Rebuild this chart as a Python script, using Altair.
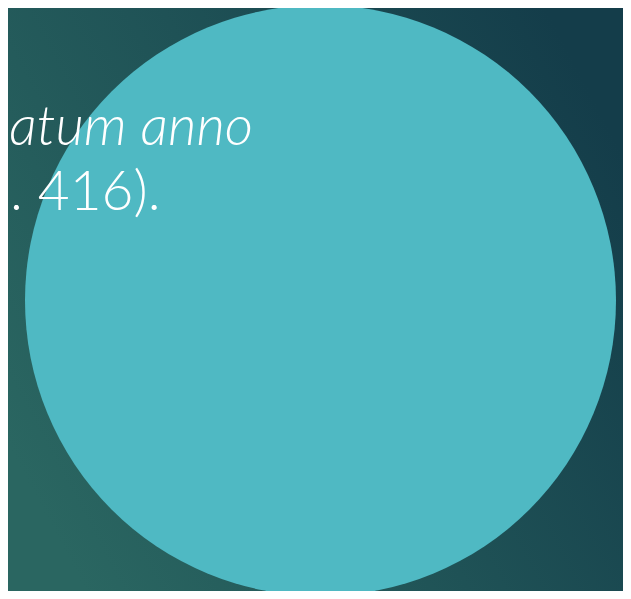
import altair as alt
import pandas as pd

# visible region of the slide (page coords), chart sits inside the 8px page margin
X0, X1 = 8, 623
Y0, Y1 = 8, 591
W, H = X1 - X0, Y1 - Y0

# circle (in slide pixel units)
circle_x = [320.5]
circle_y = [300.5]
circle_diam = 591

# text lines
text_lines = ["atum anno", ". 416)."]
text_anchor_x = [253, 10]
text_align = ["right", "left"]
text_base_y = [145, 210]
text_italic = [True, False]

df_c = pd.DataFrame({"x": circle_x, "y": circle_y})
df_t = pd.DataFrame({"t": text_lines, "x": text_anchor_x, "y": text_base_y,
                     "it": text_italic, "al": text_align})

xs = alt.Scale(domain=[X0, X1], nice=False, zero=False)
ys = alt.Scale(domain=[Y0, Y1], nice=False, zero=False, reverse=True)

grad = alt.LinearGradient(
    gradient="linear",
    stops=[
        alt.GradientStop(color="#2a6661", offset=0),
        alt.GradientStop(color="#1f5256", offset=0.5),
        alt.GradientStop(color="#143d4a", offset=1),
    ],
    x1=0, y1=0.75, x2=1, y2=0.25,
)

bg = alt.Chart(pd.DataFrame({"a": [0]})).mark_rect(color=grad).encode(
    x=alt.value(0), x2=alt.value(W), y=alt.value(0), y2=alt.value(H)
)

circ = alt.Chart(df_c).mark_circle(
    size=circle_diam ** 2, color="#4fb9c3", opacity=1, clip=True
).encode(
    x=alt.X("x:Q", scale=xs, axis=None),
    y=alt.Y("y:Q", scale=ys, axis=None),
)

def text_layer(italic, align):
    return alt.Chart(df_t).transform_filter(
        alt.datum.it == italic
    ).mark_text(
        align=align, baseline="alphabetic", fontSize=55,
        font="Lato", fontStyle="italic" if italic else "normal",
        fontWeight=300, color="white",
    ).encode(
        x=alt.X("x:Q", scale=xs, axis=None),
        y=alt.Y("y:Q", scale=ys, axis=None),
        text="t:N",
    )

chart = alt.layer(bg, circ, text_layer(True, "right"), text_layer(False, "left")).properties(
    width=W, height=H, padding=0,
    autosize=alt.AutoSizeParams(type="none"),
).configure_view(stroke=None)

chart.save("out.html", embed_options={"renderer": "svg", "actions": False})
